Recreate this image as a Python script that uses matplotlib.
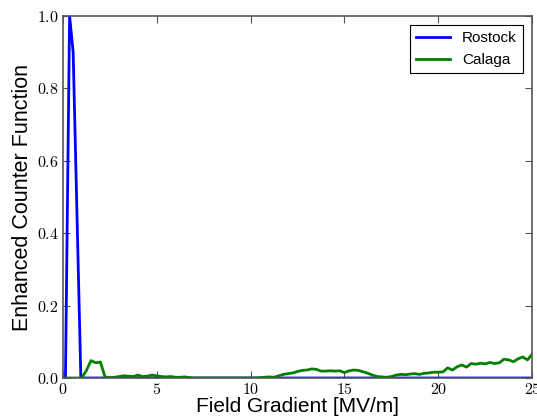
import numpy as np
import matplotlib
matplotlib.use("Agg")
import matplotlib.pyplot as plt
from matplotlib.ticker import FormatStrFormatter, MultipleLocator

# Rostock series
rostock_x = [0.0, 0.14, 0.36, 0.55, 0.96, 25.0]
rostock_y = [0.0, 0.0, 1.0, 0.90, 0.0, 0.0]

# Calaga series (grid 0..25 step 0.25)
calaga_x = np.linspace(0, 25, 101)
calaga_y = [
    0.0, 0.0, 0.0, 0.0, 0.0, 0.02, 0.048, 0.042, 0.044, 0.003,
    0.001, 0.002, 0.004, 0.006, 0.005, 0.004, 0.008, 0.004, 0.005, 0.008,
    0.006, 0.004, 0.003, 0.004, 0.002, 0.002, 0.003, 0.001, 0.0, 0.0,
    0.0, 0.0, 0.0, 0.0, 0.0, 0.0, 0.0, 0.0, 0.0, 0.0,
    0.0, 0.0, 0.001, 0.002, 0.003, 0.002, 0.006, 0.010, 0.012, 0.014,
    0.018, 0.021, 0.022, 0.025, 0.024, 0.019, 0.019, 0.020, 0.019, 0.020,
    0.015, 0.020, 0.022, 0.021, 0.017, 0.013, 0.008, 0.004, 0.003, 0.002,
    0.004, 0.008, 0.010, 0.009, 0.011, 0.012, 0.010, 0.013, 0.014, 0.016,
    0.016, 0.017, 0.028, 0.022, 0.031, 0.036, 0.030, 0.040, 0.038, 0.041,
    0.039, 0.043, 0.040, 0.042, 0.052, 0.050, 0.045, 0.053, 0.058, 0.050,
    0.066,
]

plt.rcParams['mathtext.fontset'] = 'cm'

fig = plt.figure(figsize=(5.37, 4.18), dpi=100)
ax = fig.add_axes([0.117, 0.0957, 0.874, 0.866])

ax.plot(rostock_x, rostock_y, color='#0000ff', lw=2, label='Rostock')
ax.plot(calaga_x, calaga_y, color='#008000', lw=2, label='Calaga')

ax.set_xlim(0, 25)
ax.set_ylim(0, 1.0)
ax.xaxis.set_major_locator(MultipleLocator(5))
ax.yaxis.set_major_locator(MultipleLocator(0.2))
ax.xaxis.set_major_formatter(FormatStrFormatter('$%d$'))
ax.yaxis.set_major_formatter(FormatStrFormatter('$%.1f$'))
ax.tick_params(direction='in', top=True, right=True, length=5, width=0.8,
               color='#555555', labelsize=11.5, pad=3)
for s in ax.spines.values():
    s.set_color('#555555')
    s.set_linewidth(1.2)

ax.set_xlabel('Field Gradient [MV/m]', family='Liberation Sans', fontsize=15, labelpad=0)
ax.set_ylabel('Enhanced Counter Function', family='Liberation Sans', fontsize=15.5, labelpad=3)

leg = ax.legend(loc='upper right', prop={'family': 'Liberation Sans', 'size': 11},
                fancybox=False, framealpha=1, edgecolor='black', handlelength=2.2,
                borderaxespad=0.6)
leg.get_frame().set_linewidth(0.8)

fig.savefig('out.png', dpi=100)
